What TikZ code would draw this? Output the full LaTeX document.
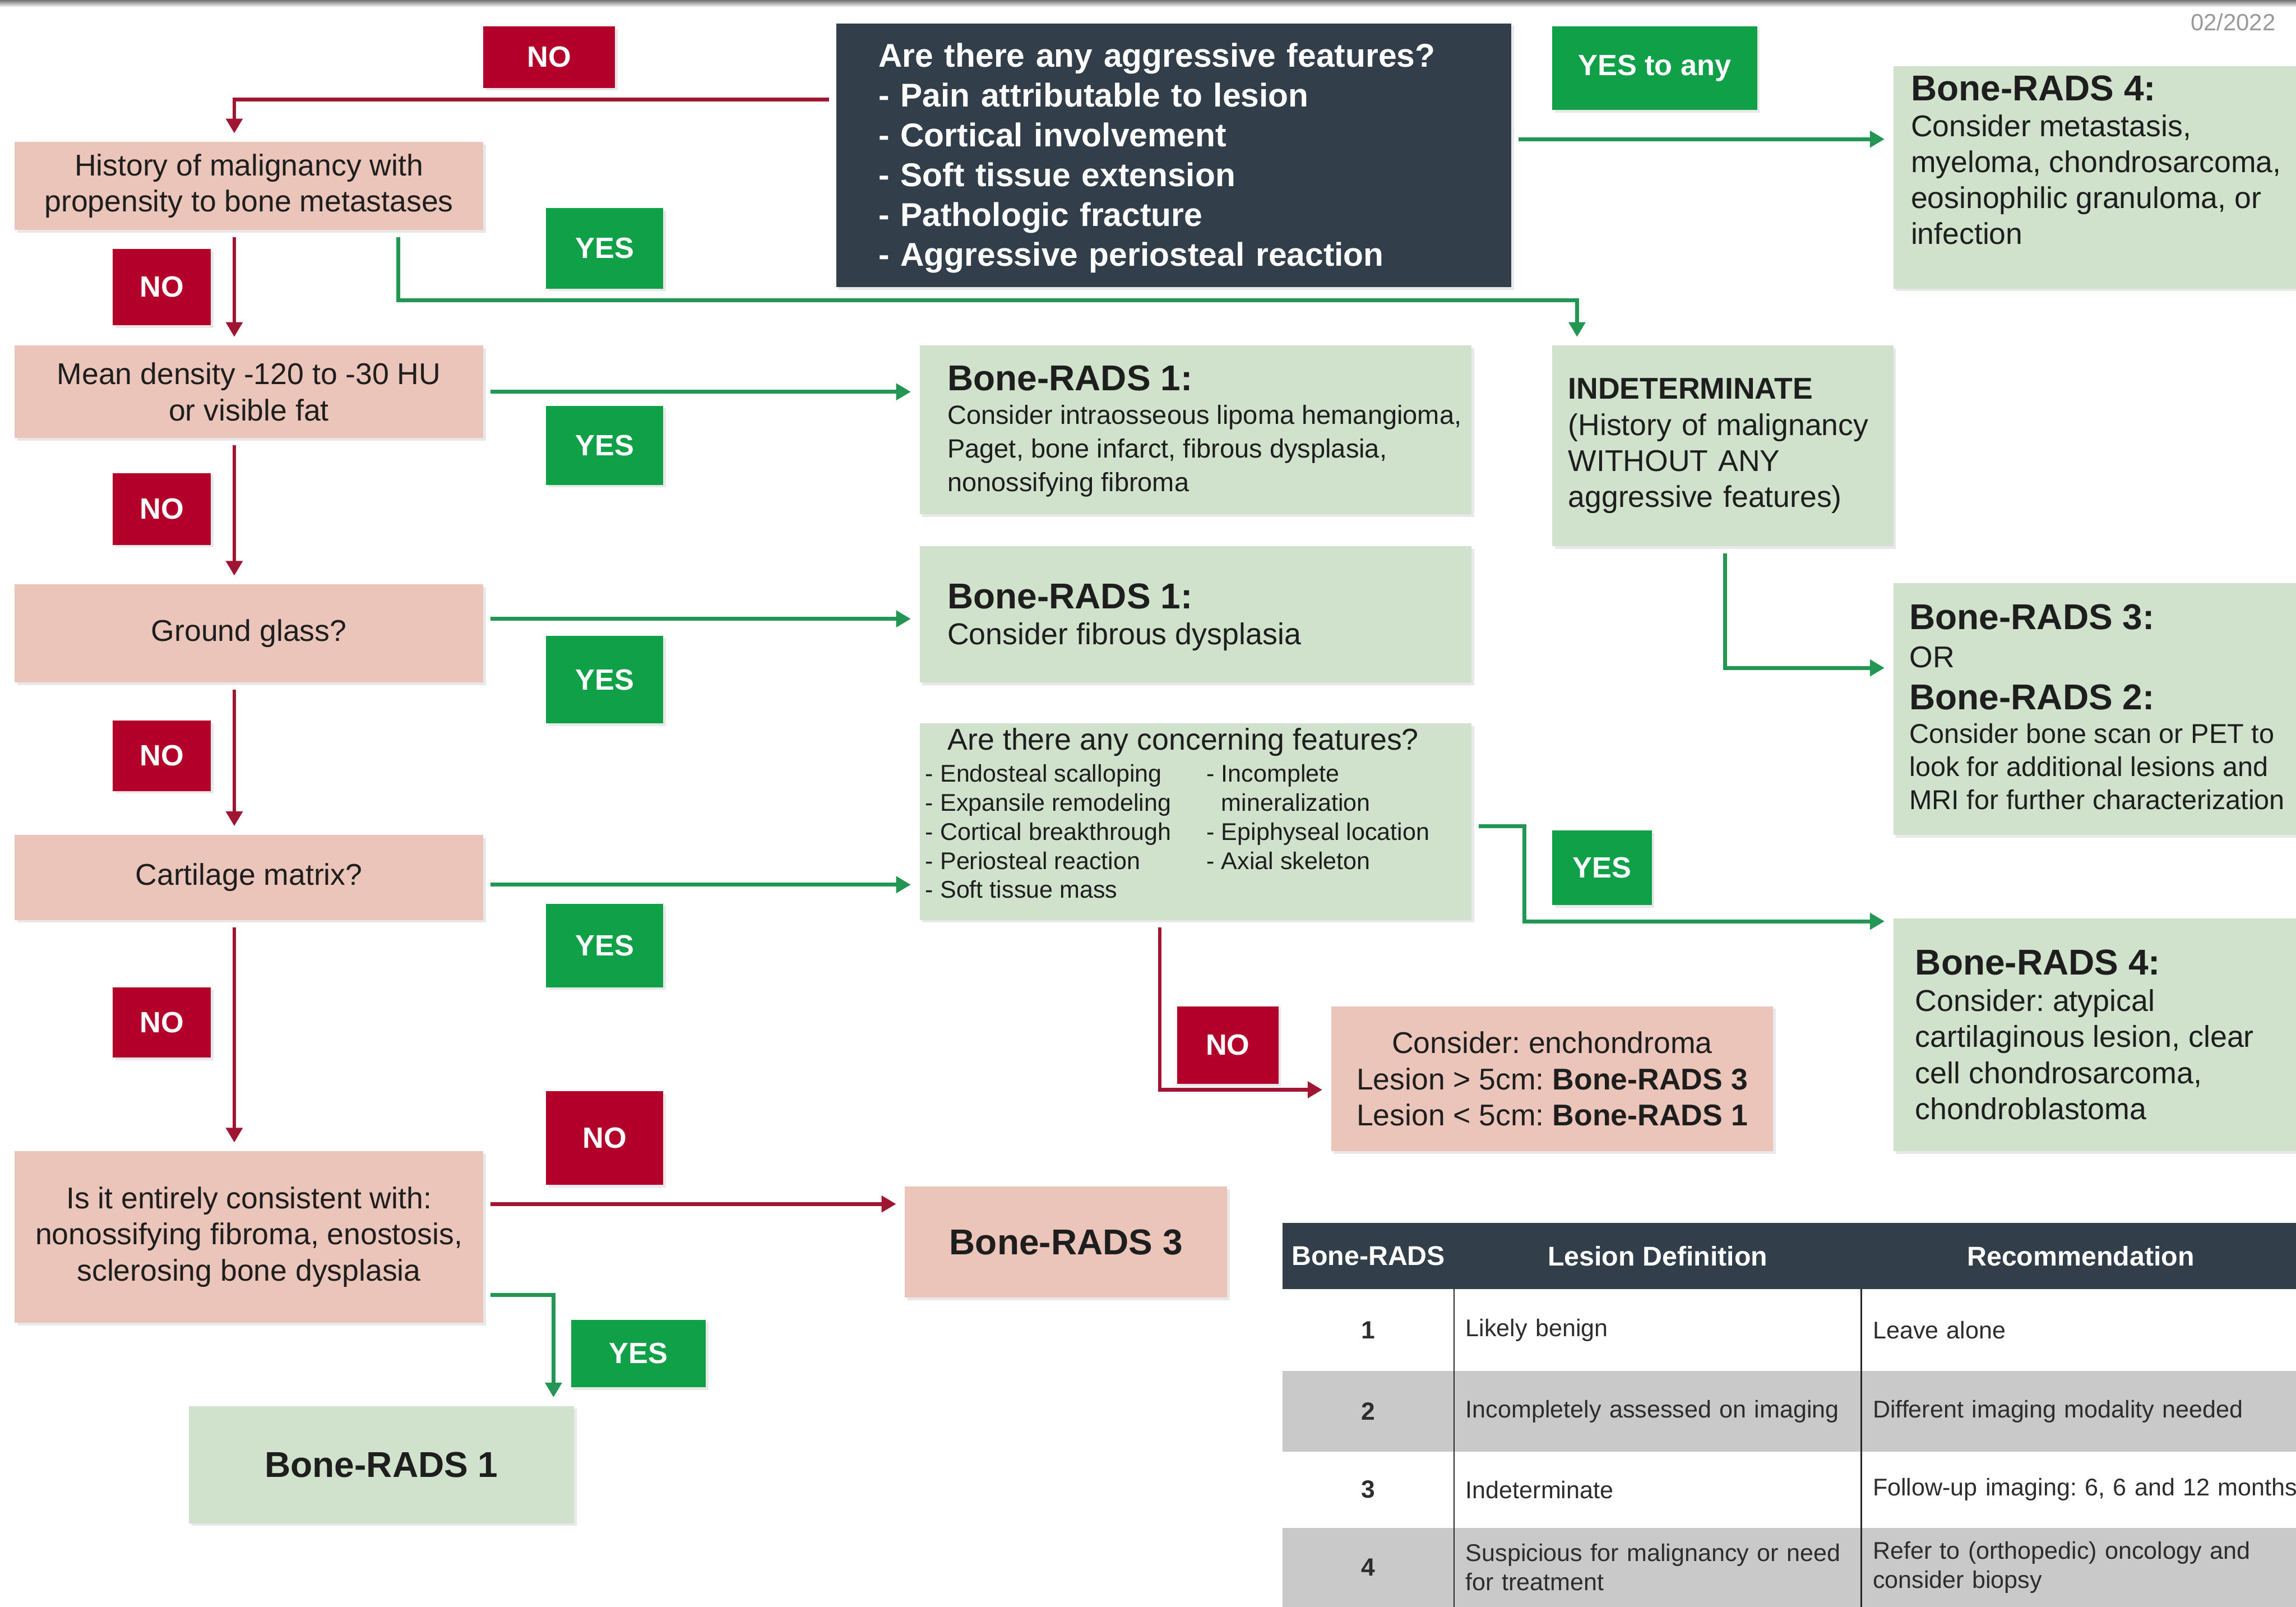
\documentclass[tikz,border=0pt]{standalone}
\usepackage{fontspec}
\setmainfont{Liberation Sans}
\frenchspacing
\usetikzlibrary{arrows.meta,shadows}

\definecolor{slate}{RGB}{50,62,74}
\definecolor{nored}{RGB}{178,0,42}
\definecolor{noline}{RGB}{160,22,50}
\definecolor{yesgreen}{RGB}{16,160,72}
\definecolor{yesline}{RGB}{36,150,84}
\definecolor{paleg}{RGB}{208,226,204}
\definecolor{palep}{RGB}{235,197,185}
\definecolor{rowgray}{RGB}{201,201,201}
\definecolor{ink}{RGB}{30,30,30}
\definecolor{tableink}{RGB}{45,45,45}
\definecolor{rulecol}{RGB}{40,40,40}

\newcommand{\setfs}[2]{\fontsize{#1}{#2}\selectfont}

\tikzset{
  every node/.style={inner sep=0pt, outer sep=0pt, text=ink},
  card/.style={anchor=north west, drop shadow={opacity=0.18, shadow xshift=1.8pt, shadow yshift=-1.8pt}},
  pinkcard/.style={card, fill=palep, align=center, font=\setfs{20.5}{24.6}},
  greencard/.style={card, fill=paleg},
  badge/.style={card, text=white, font=\bfseries\setfs{20}{24}},
  nobadge/.style={badge, fill=nored},
  yesbadge/.style={badge, fill=yesgreen},
  cardtext/.style={anchor=north west, align=left},
  flow/.style={line width=2.6pt, -{Triangle[length=10pt,width=11pt]}, shorten <=5pt, shorten >=6pt},
  noarrow/.style={flow, draw=noline},
  yesarrow/.style={flow, draw=yesline},
  thead/.style={anchor=north west, fill=slate, text=white, font=\bfseries\setfs{18.5}{22}, minimum height=45pt},
  tnum/.style={anchor=north west, font=\bfseries\setfs{17}{20}, minimum width=117pt, text=tableink},
  ttext/.style={anchor=north west, font=\setfs{16.5}{20}, align=left, inner xsep=8pt, text=tableink},
  oddrow/.style={fill=white},
  evenrow/.style={fill=rowgray},
}

\begin{document}
\begin{tikzpicture}[x=1pt, y=-1pt]
\useasboundingbox (0,0) rectangle (1568,1097);
\fill[white] (0,0) rectangle (1568,1097);
\shade[top color=black!55, bottom color=white] (0,0) rectangle (1568,5);

\node[text=black!40, font=\setfs{16}{18}] (date) at (1525,15) {02/2022};

% ---------- question on aggressive features ----------
\node[card, fill=slate, text=white, font=\bfseries\setfs{22.5}{27.2}, align=left,
      text width=403pt, minimum width=461pt, minimum height=180pt] (q) at (571,16)
  {\rule{0pt}{20pt}Are there any aggressive features?\\
   - Pain attributable to lesion\\
   - Cortical involvement\\
   - Soft tissue extension\\
   - Pathologic fracture\\
   - Aggressive periosteal reaction};

% ---------- decision boxes (left column) ----------
\node[pinkcard, minimum width=320pt, minimum height=60pt] (hist) at (10,97)
  {History of malignancy with\\propensity to bone metastases};
\node[pinkcard, minimum width=320pt, minimum height=63pt] (mean) at (10,236)
  {Mean density -120 to -30 HU\\or visible fat};
\node[pinkcard, minimum width=320pt, minimum height=67pt] (ground) at (10,399)
  {Ground glass?};
\node[pinkcard, minimum width=320pt, minimum height=58pt] (cart) at (10,570)
  {Cartilage matrix?};
\node[pinkcard, minimum width=320pt, minimum height=117pt] (cons) at (10,786)
  {Is it entirely consistent with:\\nonossifying fibroma, enostosis,\\sclerosing bone dysplasia};
\node[pinkcard, minimum width=302pt, minimum height=99pt] (ench) at (909,687)
  {Consider: enchondroma\\Lesion > 5cm: \textbf{Bone-RADS 3}\\Lesion < 5cm: \textbf{Bone-RADS 1}};
\node[pinkcard, minimum width=220pt, minimum height=76pt, font=\bfseries\setfs{24.5}{27}] (br3) at (618,810)
  {Bone-RADS 3};

% ---------- outcome boxes ----------
\node[greencard, minimum width=280pt, minimum height=152pt] (br4a) at (1293,45) {};
\node[cardtext, font=\setfs{20.5}{24.5}] (br4aText) at (1305,51.5)
  {{\bfseries\setfs{24.5}{24.5}Bone-RADS 4:}\\Consider metastasis,\\myeloma, chondrosarcoma,\\eosinophilic granuloma, or\\infection};

\node[greencard, minimum width=233pt, minimum height=137pt, text width=211pt, align=left,
      font=\setfs{20.5}{24.6}] (indet) at (1060,236)
  {\textbf{INDETERMINATE}\\(History of malignancy\\WITHOUT ANY\\aggressive features)};

\node[greencard, minimum width=377pt, minimum height=115pt] (br1a) at (628,236) {};
\node[cardtext, font=\setfs{18}{23}] (br1aText) at (647,249.5)
  {{\bfseries\setfs{24.5}{24.5}Bone-RADS 1:}\\Consider intraosseous lipoma hemangioma,\\Paget, bone infarct, fibrous dysplasia,\\nonossifying fibroma};

\node[greencard, minimum width=377pt, minimum height=93pt] (br1c) at (628,373) {};
\node[cardtext, font=\setfs{20.6}{24.5}] (br1cText) at (647,398.5)
  {{\bfseries\setfs{24.5}{24.5}Bone-RADS 1:}\\Consider fibrous dysplasia};

\node[greencard, minimum width=280pt, minimum height=172pt] (br32) at (1293,398) {};
\node[cardtext, font=\setfs{18.6}{22.7}] (br32Text) at (1304,412.5)
  {{\bfseries\setfs{24.5}{24.5}Bone-RADS 3:}\\[3.3pt]
   {\setfs{20.5}{24}OR}\\[6.3pt]
   {\bfseries\setfs{24.5}{24.5}Bone-RADS 2:}\\
   Consider bone scan or PET to\\
   look for additional lesions and\\
   MRI for further characterization};

\node[greencard, minimum width=377pt, minimum height=134pt] (concern) at (628,494) {};
\node[anchor=base, font=\setfs{20.6}{24}] (concernTitle) at (808,512)
  {Are there any concerning features?};
\node[cardtext, font=\setfs{16.5}{19.8}] (concernLeft) at (632,522)
  {- Endosteal scalloping\\- Expansile remodeling\\- Cortical breakthrough\\- Periosteal reaction\\- Soft tissue mass};
\node[cardtext, font=\setfs{16.5}{19.8}] (concernRight) at (824,522)
  {- Incomplete\\\hphantom{- }mineralization\\- Epiphyseal location\\- Axial skeleton};

\node[greencard, minimum width=280pt, minimum height=159pt] (br4b) at (1293,627) {};
\node[cardtext, font=\setfs{20.6}{24.7}] (br4bText) at (1308,648.5)
  {{\bfseries\setfs{24.5}{24.5}Bone-RADS 4:}\\Consider: atypical\\cartilaginous lesion, clear\\cell chondrosarcoma,\\chondroblastoma};

\node[greencard, minimum width=263pt, minimum height=80pt, font=\bfseries\setfs{24.5}{27}] (br1b) at (129,960)
  {Bone-RADS 1};

% ---------- YES / NO badges ----------
\node[nobadge, minimum width=90pt, minimum height=42pt] (noTop) at (330,18) {NO};
\node[yesbadge, minimum width=140pt, minimum height=57pt] (yesAny) at (1060,18) {YES to any};
\node[nobadge, minimum width=67pt, minimum height=52pt] (noHist) at (77,170) {NO};
\node[yesbadge, minimum width=80pt, minimum height=55pt] (yesHist) at (373,142) {YES};
\node[yesbadge, minimum width=80pt, minimum height=54pt] (yesMean) at (373,277) {YES};
\node[nobadge, minimum width=67pt, minimum height=49pt] (noMean) at (77,323) {NO};
\node[yesbadge, minimum width=80pt, minimum height=60pt] (yesGround) at (373,434) {YES};
\node[nobadge, minimum width=67pt, minimum height=48pt] (noGround) at (77,492) {NO};
\node[yesbadge, minimum width=80pt, minimum height=57pt] (yesCart) at (373,617) {YES};
\node[yesbadge, minimum width=68pt, minimum height=51pt] (yesConcern) at (1060,567) {YES};
\node[nobadge, minimum width=67pt, minimum height=48pt] (noCart) at (77,674) {NO};
\node[nobadge, minimum width=69pt, minimum height=53pt] (noConcern) at (804,687) {NO};
\node[nobadge, minimum width=80pt, minimum height=64pt] (noCons) at (373,745) {NO};
\node[yesbadge, minimum width=92pt, minimum height=46pt] (yesCons) at (390,901) {YES};

% ---------- connector guide points ----------
\coordinate (colx) at (160,0);
\coordinate (histyes) at (272,0);
\coordinate (yesbus) at (0,205);
\coordinate (indetin) at (1077,0);
\coordinate (indetout) at (1178,0);
\coordinate (concdown) at (792,0);
\coordinate (yesdrop) at (378,0);
\coordinate (qno) at ([yshift=-52pt]q.north west);
\coordinate (qyes) at ([yshift=-79pt]q.north east);
\coordinate (groundyes) at ([yshift=10pt]ground.east);
\coordinate (cartyes) at ([yshift=-5pt]cart.east);
\coordinate (br32in) at ([yshift=-58pt]br32.north west);
\coordinate (concyes) at ([yshift=-70pt]concern.north east);
\coordinate (br4bin) at ([yshift=-2pt]br4b.north west);
\coordinate (enchin) at ([yshift=-57pt]ench.north west);
\coordinate (consno) at ([yshift=-36pt]cons.north east);
\coordinate (consyes) at ([yshift=-98pt]cons.north east);

% ---------- connectors ----------
\draw[noarrow] (qno) -| (hist.north -| colx);
\draw[noarrow] (hist.south -| colx) -- (mean.north -| colx);
\draw[yesarrow] (hist.south -| histyes) -- (yesbus -| histyes) -- (yesbus -| indetin) -- (indet.north -| indetin);
\draw[yesarrow] (qyes) -- (qyes -| br4a.west);
\draw[yesarrow] (mean.east) -- (mean.east -| br1a.west);
\draw[noarrow] (mean.south -| colx) -- (ground.north -| colx);
\draw[yesarrow] (groundyes) -- (groundyes -| br1c.west);
\draw[yesarrow] (indet.south -| indetout) |- (br32in);
\draw[noarrow] (ground.south -| colx) -- (cart.north -| colx);
\draw[yesarrow] (cartyes) -- (cartyes -| concern.west);
\draw[yesarrow] (concyes) -- ++(36,0) |- (br4bin);
\draw[noarrow] (concern.south -| concdown) |- (enchin);
\draw[noarrow] (cart.south -| colx) -- (cons.north -| colx);
\draw[noarrow] (consno) -- (consno -| br3.west);
\draw[yesarrow] (consyes) -| (br1b.north -| yesdrop);

% ---------- Bone-RADS summary table ----------
\node[thead, minimum width=117pt] (th1) at (876,835) {Bone-RADS};
\node[thead, minimum width=278pt] (th2) at (993,835) {Lesion Definition};
\node[thead, minimum width=300pt] (th3) at (1271,835) {Recommendation};

\node[tnum, oddrow, minimum height=56pt] (r1a) at (876,880) {1};
\node[ttext, oddrow, minimum height=56pt, text width=262pt] (r1b) at (993,880) {Likely benign};
\node[ttext, oddrow, minimum height=56pt, text width=300pt] (r1c) at (1271,880) {Leave alone};

\node[tnum, evenrow, minimum height=55pt] (r2a) at (876,936) {2};
\node[ttext, evenrow, minimum height=55pt, text width=262pt] (r2b) at (993,936) {Incompletely assessed on imaging};
\node[ttext, evenrow, minimum height=55pt, text width=300pt] (r2c) at (1271,936) {Different imaging modality needed};

\node[tnum, oddrow, minimum height=52pt] (r3a) at (876,991) {3};
\node[ttext, oddrow, minimum height=52pt, text width=262pt] (r3b) at (993,991) {Indeterminate};
\node[ttext, oddrow, minimum height=52pt, text width=300pt] (r3c) at (1271,991) {Follow-up imaging: 6, 6 and 12 months};

\node[tnum, evenrow, minimum height=54pt] (r4a) at (876,1043) {4};
\node[ttext, evenrow, minimum height=54pt, text width=262pt] (r4b) at (993,1043) {Suspicious for malignancy or need\\for treatment};
\node[ttext, evenrow, minimum height=54pt, text width=300pt] (r4c) at (1271,1043) {Refer to (orthopedic) oncology and\\consider biopsy};

\draw[rulecol, line width=1.1pt] (r1a.north east) -- (r4a.south east);
\draw[rulecol, line width=1.1pt] (r1b.north east) -- (r4b.south east);
\end{tikzpicture}
\end{document}
